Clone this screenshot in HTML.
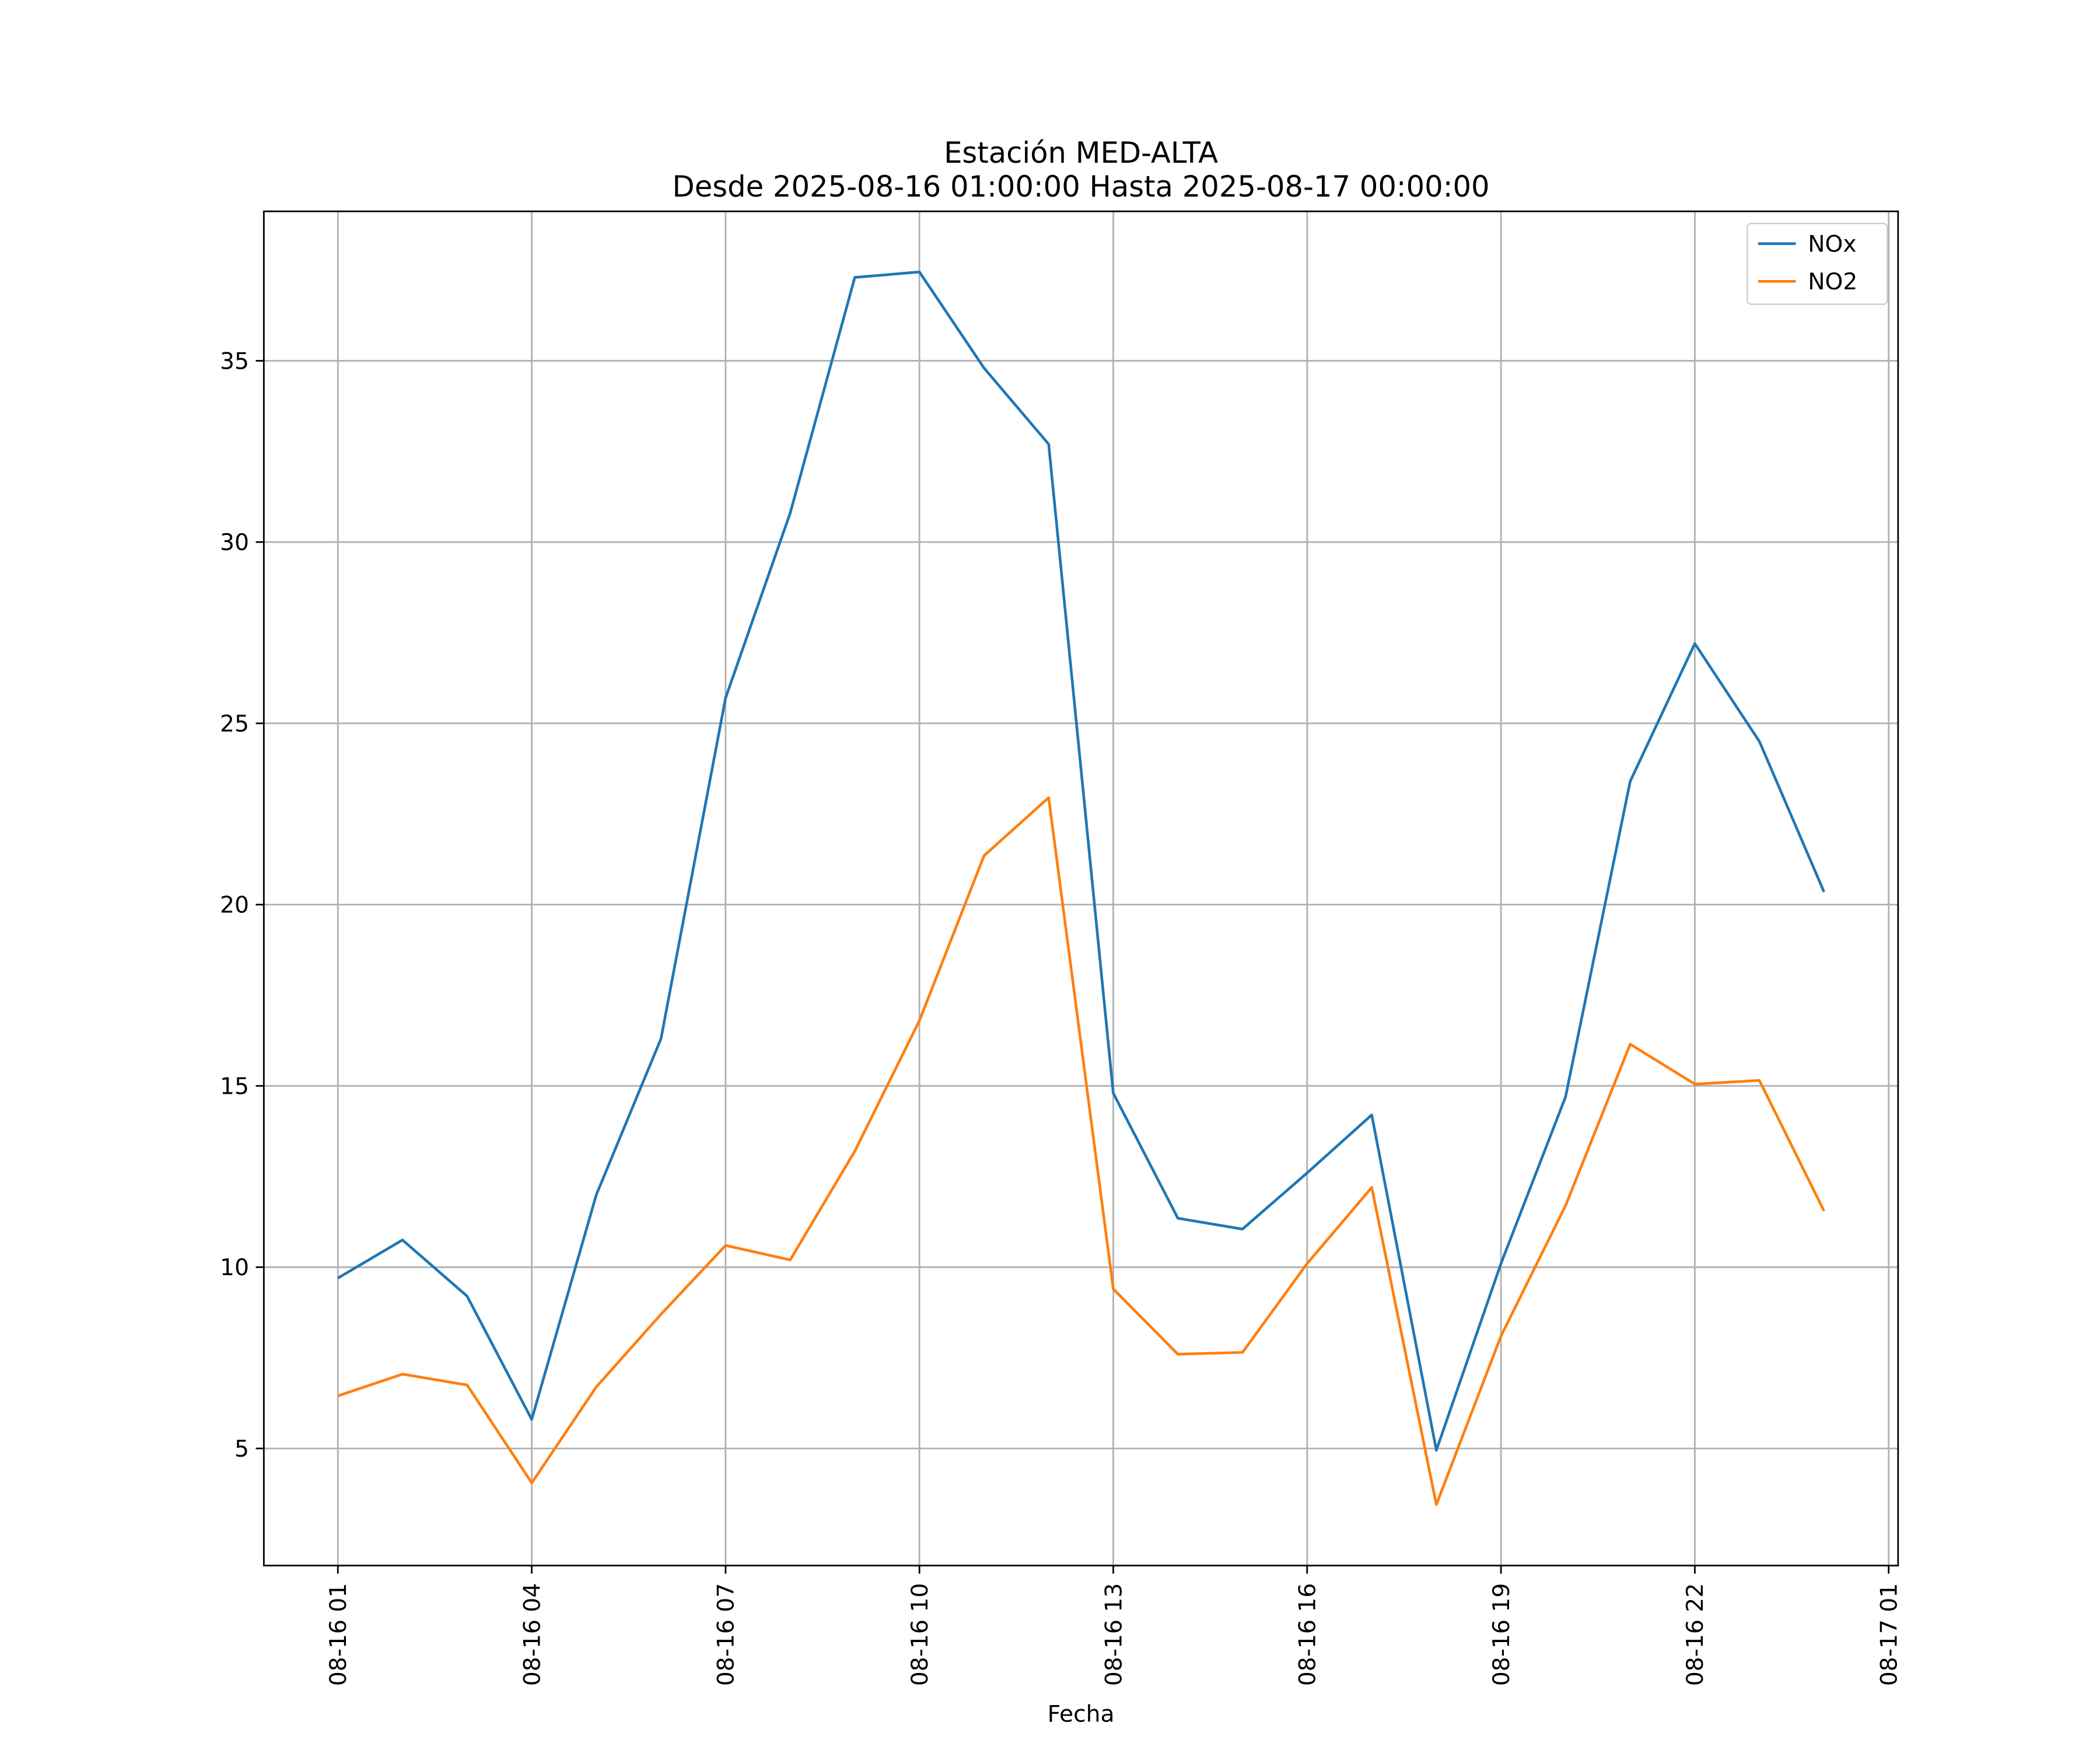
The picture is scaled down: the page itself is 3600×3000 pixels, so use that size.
<!DOCTYPE html>
<html><head><meta charset="utf-8"><style>
html,body{margin:0;padding:0;background:#fff;}
svg{display:block;font-family:"DejaVu Sans","Liberation Sans",sans-serif;}
</style></head><body>
<svg id="chart" width="3600" height="3000" viewBox="0 0 1560 1300" xmlns="http://www.w3.org/2000/svg">
<rect x="0" y="0" width="1560" height="1300" fill="#fff"/>
<text x="803" y="121" font-size="21.5" text-anchor="middle">Estación MED-ALTA</text>
<text x="803" y="146" font-size="21.5" text-anchor="middle">Desde 2025-08-16 01:00:00 Hasta 2025-08-17 00:00:00</text>
<g id="grid"></g>
<g id="series"></g>
<rect x="196" y="157" width="1214" height="1006" fill="none" stroke="#000" stroke-width="1.2"/>
<g id="axes"></g>
<text x="803" y="1279" font-size="17" text-anchor="middle">Fecha</text>
<g>
<rect x="1298" y="166" width="104" height="60" fill="#fff" stroke="#ccc" rx="3"/>
<g>
<line x1="1306" y1="181" x2="1334" y2="181" stroke="#1f77b4" stroke-width="2"/>
<text x="1343" y="187" font-size="17">NOx</text></g>
<g>
<line x1="1306" y1="209" x2="1334" y2="209" stroke="#ff7f0e" stroke-width="2"/>
<text x="1343" y="215" font-size="17">NO2</text></g>
</g>
</svg>
<script>
const hours = [1,2,3,4,5,6,7,8,9,10,11,12,13,14,15,16,17,18,19,20,21,22,23,24];
const noxValues = [9.7,10.75,9.2,5.8,12.0,16.3,25.7,30.8,37.3,37.45,34.8,32.7,14.8,11.35,11.05,12.6,14.2,4.95,10.1,14.7,23.4,27.2,24.5,20.35];
const no2Values = [6.45,7.05,6.75,4.05,6.7,8.7,10.6,10.2,13.2,16.8,21.35,22.95,9.4,7.6,7.65,10.1,12.2,3.45,8.1,11.7,16.15,15.05,15.15,11.55];
const yTicks = [5,10,15,20,25,30,35];
const xTickHours = [1,4,7,10,13,16,19,22,25];
const xTickLabels = ["08-16 01","08-16 04","08-16 07","08-16 10","08-16 13","08-16 16","08-16 19","08-16 22","08-17 01"];

const NS="http://www.w3.org/2000/svg";
function xs(h){return 251+(h-1)*48;}
function ys(v){return 1076-(v-5)*26.933;}
function mk(tag,attrs,parent){const e=document.createElementNS(NS,tag);for(const k in attrs)e.setAttribute(k,attrs[k]);parent.appendChild(e);return e;}
const grid=document.getElementById('grid'),axes=document.getElementById('axes'),series=document.getElementById('series');
yTicks.forEach(v=>{
  const g=mk('line',{x1:196,x2:1410,y1:ys(v),y2:ys(v),stroke:'#b0b0b0','stroke-width':1.2},grid);
  
  
  const t=mk('line',{x1:190,x2:196,y1:ys(v),y2:ys(v),stroke:'#000','stroke-width':1.2},axes);
  
  
  const l=mk('text',{x:185,y:ys(v)+6,'font-size':17,'text-anchor':'end'},axes);
  l.textContent=v;
  
  
});
xTickHours.forEach((h,i)=>{
  const x=xs(h);
  const g=mk('line',{x1:x,x2:x,y1:157,y2:1163,stroke:'#b0b0b0','stroke-width':1.2},grid);
  
  
  const t=mk('line',{x1:x,x2:x,y1:1163,y2:1169,stroke:'#000','stroke-width':1.2},axes);
  
  
  const l=mk('text',{x:0,y:0,'font-size':17,'text-anchor':'end',transform:`translate(${x+6},1176) rotate(-90)`},axes);
  l.textContent=xTickLabels[i];
  
  
});
function line(vals,color,name){
  const p=mk('polyline',{points:vals.map((v,i)=>xs(hours[i])+','+ys(v)).join(' '),fill:'none',stroke:color,'stroke-width':2,'stroke-linejoin':'round'},series);
  
  
}
line(noxValues,'#1f77b4','nox-line');
line(no2Values,'#ff7f0e','no2-line');
</script>
</body></html>
